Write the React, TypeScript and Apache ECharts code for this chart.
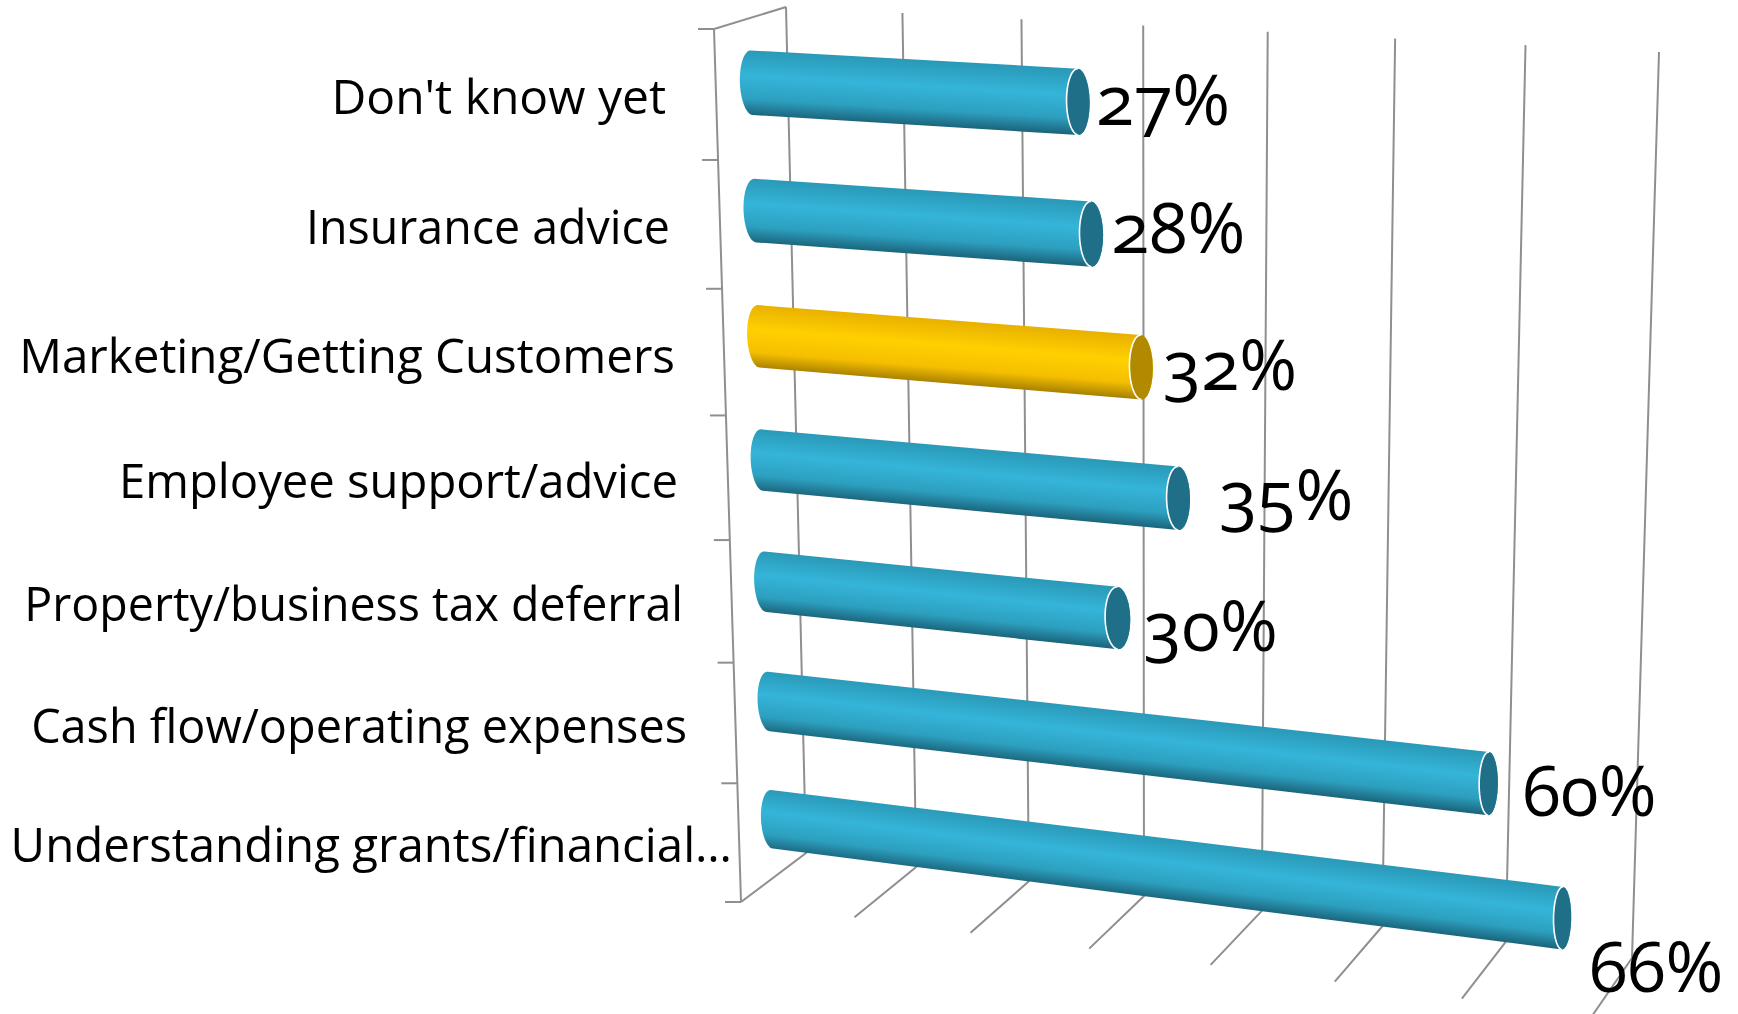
import React, { useEffect, useRef } from "react";
import * as echarts from "echarts";

const categories = [
  "Don't know yet",
  "Insurance advice",
  "Marketing/Getting Customers",
  "Employee support/advice",
  "Property/business tax deferral",
  "Cash flow/operating expenses",
  "Understanding grants/financial…",
];
const percentages = [27, 28, 32, 35, 30, 60, 66];
const highlightedCategory = "Marketing/Getting Customers";
const valueTicks = [0, 10, 20, 30, 40, 50, 60, 70];

// Layout of the printed labels, apart from the data
const labelRightEdges = [666, 670, 675, 678, 683, 687, 732];
const labelCentres = [95, 225, 354, 479, 602, 724, 843];
const labelScaleX = [1, 0.97, 0.99, 0.984, 0.97, 0.975, 0.988];
const valueLabelDx = [85, 87, 89, 108, 93, 101, 94];
const valueLabelDy = [-4, -8, -4, -5, 6, 5, 47];

const FONT = "'Open Sans', sans-serif";
const GRID_COLOR = "#8f8f8f";

type Pt = [number, number];
const lerp = (a: Pt, b: Pt, k: number): Pt => [a[0] + (b[0] - a[0]) * k, a[1] + (b[1] - a[1]) * k];
// Box of the 3D plot on the page
const FBL: Pt = [741, 902];
const FBR: Pt = [1592, 1016];
const BBL: Pt = [806, 853];
const BBR: Pt = [1632, 958];
const FTL: Pt = [714, 29];
const FTR: Pt = [1613, 78];
const BTL: Pt = [786, 7];
const BTR: Pt = [1659, 52];

const persp = (t: number, k: number) => t / (t + k * (1 - t));
const sX = (t: number) => persp(t, 1.083);
const sBar = (t: number) => persp(t, 1.07);
const sY = (t: number) => persp(t, 1.059);

function box(s: number, d: number, h: number): Pt {
  const bottom = lerp(lerp(FBL, FBR, s), lerp(BBL, BBR, s), d);
  const top = lerp(lerp(FTL, FTR, s), lerp(BTL, BTR, s), d);
  return lerp(bottom, top, h);
}

function normalise(cs: any, p: number[]) {
  return [(p[0] - cs.x) / cs.width, 1 - (p[1] - cs.y) / cs.height];
}

function renderGrid(params: any, api: any) {
  const cs = params.coordSys;
  const v = api.value(0);
  const [t] = normalise(cs, api.coord([v, 0]));
  const s = sX(t);
  const style = { stroke: GRID_COLOR, lineWidth: 2, fill: "none" };
  const children: any[] = [
    { type: "polyline", shape: { points: [box(s, 0, 0), box(s, 1, 0), box(s, 1, 1)] }, style },
  ];
  if (params.dataIndex === 0) {
    children.push({
      type: "polyline",
      shape: { points: [box(0, 0, 0), box(0, 0, 1), box(0, 1, 1)] },
      style,
    });
    const n = categories.length;
    for (let i = 0; i <= n; i++) {
      const p = box(0, 0, sY(i / n));
      children.push({
        type: "line",
        shape: { x1: p[0] - 16, y1: p[1], x2: p[0], y2: p[1] },
        style,
      });
    }
  }
  return { type: "group", children };
}

function ellipseArc(c: Pt, up: Pt, axis: Pt, from: number, to: number): Pt[] {
  const pts: Pt[] = [];
  const steps = 24;
  for (let i = 0; i <= steps; i++) {
    const a = from + ((to - from) * i) / steps;
    pts.push([
      c[0] + up[0] * Math.cos(a) + axis[0] * Math.sin(a),
      c[1] + up[1] * Math.cos(a) + axis[1] * Math.sin(a),
    ]);
  }
  return pts;
}

function renderBar(params: any, api: any) {
  const cs = params.coordSys;
  const value = api.value(0);
  const catIndex = api.value(1);
  const i = params.dataIndex;
  const band = api.size([0, 1])[1];
  const end = api.coord([value, catIndex]);
  const start = api.coord([0, catIndex]);
  const half = band * 0.25;

  const [t1, hc] = normalise(cs, end);
  const [t0] = normalise(cs, start);
  const hTop = normalise(cs, [end[0], end[1] - half])[1];
  const s0 = sBar(t0);
  const s1 = sBar(t1);
  const D = 0.5;

  const c0 = box(s0, D, sY(hc));
  const c1 = box(s1, D, sY(hc));
  const up0 = box(s0, D, sY(hTop));
  const upVec0: Pt = [up0[0] - c0[0], up0[1] - c0[1]];
  const up1 = box(s1, D, sY(hTop));
  const upVec1: Pt = [up1[0] - c1[0], up1[1] - c1[1]];

  const len = Math.hypot(c1[0] - c0[0], c1[1] - c0[1]);
  const ax: Pt = [(c1[0] - c0[0]) / len, (c1[1] - c0[1]) / len];
  const n: Pt = [-ax[1], ax[0]];

  const w0 = 12 - 1 * (1 - sY(hc));
  const w1 = (14 + 3 * (1 - sY(hc))) * (1 - 0.5 * s1);
  const axis0: Pt = [ax[0] * w0, ax[1] * w0];
  const axis1: Pt = [ax[0] * w1, ax[1] * w1];

  const leftArc = ellipseArc(c0, upVec0, axis0, 0, -Math.PI);
  const rightArc = ellipseArc(c1, upVec1, axis1, Math.PI, 0);
  const outline = [...leftArc, ...rightArc];
  const cap = ellipseArc(c1, upVec1, axis1, 0, Math.PI * 2);
  const capEdge = ellipseArc(c1, upVec1, axis1, 0, -Math.PI);

  const gold = categories[catIndex] === highlightedCategory;
  const R = Math.hypot(upVec1[0], upVec1[1]);
  const mid: Pt = lerp(c0, c1, 0.5);
  const stops = gold
    ? [
        { offset: 0, color: "#e8b000" },
        { offset: 0.4, color: "#ffd000" },
        { offset: 0.75, color: "#f5bf00" },
        { offset: 1, color: "#a67f00" },
      ]
    : [
        { offset: 0, color: "#2a98b6" },
        { offset: 0.4, color: "#34b5d9" },
        { offset: 0.75, color: "#2d9fbf" },
        { offset: 1, color: "#1a6379" },
      ];
  const fill = new echarts.graphic.LinearGradient(
    mid[0] - n[0] * R,
    mid[1] - n[1] * R,
    mid[0] + n[0] * R,
    mid[1] + n[1] * R,
    stops,
    true
  );

  return {
    type: "group",
    children: [
      { type: "polygon", shape: { points: outline }, style: { fill } },
      { type: "polygon", shape: { points: cap }, style: { fill: gold ? "#b28a00" : "#1f6f88" } },
      {
        type: "polyline",
        shape: { points: capEdge },
        style: { stroke: "#ffffff", lineWidth: 1.6, fill: "none" },
      },
      {
        type: "text",
        x: c1[0] + valueLabelDx[i],
        y: c1[1] + valueLabelDy[i],
        style: {
          text: `${value}%`,
          textAlign: "center",
          textVerticalAlign: "middle",
          fontSize: 70,
          fontFamily: FONT,
          fill: "#000000",
        },
      },
      {
        type: "text",
        x: labelRightEdges[i],
        y: labelCentres[i],
        scaleX: labelScaleX[i],
        style: {
          text: categories[catIndex],
          textAlign: "right",
          textVerticalAlign: "middle",
          fontSize: 48,
          fontFamily: FONT,
          fill: "#000000",
        },
      },
    ],
  };
}

export default function App() {
  const ref = useRef<HTMLDivElement>(null);
  useEffect(() => {
    const chart = echarts.init(ref.current!, undefined, { renderer: "svg" });
    chart.setOption({
      animation: false,
      grid: { left: 100, right: 100, top: 100, bottom: 100 },
      xAxis: { type: "value", min: 0, max: 70, interval: 10, show: false },
      yAxis: { type: "category", data: categories, inverse: true, show: false },
      series: [
        {
          type: "custom",
          silent: true,
          z: 1,
          clip: false,
          renderItem: renderGrid,
          encode: { x: 0 },
          data: valueTicks.map((v) => [v, categories[0]]),
        },
        {
          type: "custom",
          silent: true,
          z: 2,
          clip: false,
          renderItem: renderBar,
          encode: { x: 0, y: 1 },
          data: percentages.map((v, i) => [v, categories[i]]),
        },
      ],
    });
    return () => chart.dispose();
  }, []);
  return (
    <>
      <style>{`html,body{margin:0;overflow:hidden;background:#fff} #root text{font-feature-settings:"onum" 1;font-variant-numeric:oldstyle-nums}`}</style>
      <div ref={ref} style={{ position: "fixed", left: 0, top: 0, width: 1738, height: 1014 }} />
    </>
  );
}
